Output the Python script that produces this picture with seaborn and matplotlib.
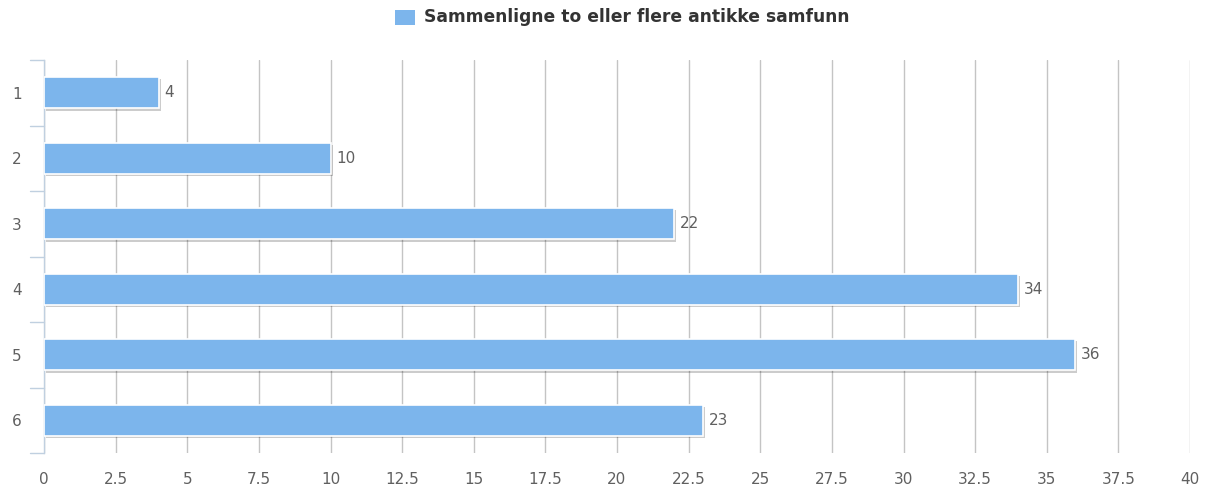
import matplotlib
matplotlib.use("Agg")
import matplotlib.pyplot as plt
import matplotlib.patheffects as pe
from matplotlib.patches import Rectangle
import seaborn as sns
import pandas as pd

categories = ["1", "2", "3", "4", "5", "6"]
values = [4, 10, 22, 34, 36, 23]
series_name = "Sammenligne to eller flere antikke samfunn"
x_ticks = [0, 2.5, 5, 7.5, 10, 12.5, 15, 17.5, 20, 22.5, 25, 27.5, 30, 32.5, 35, 37.5, 40]
x_tick_labels = ["0", "2.5", "5", "7.5", "10", "12.5", "15", "17.5", "20", "22.5",
                 "25", "27.5", "30", "32.5", "35", "37.5", "40"]

sns.set_theme(style="white")
plt.rcParams["font.family"] = ["DejaVu Sans"]

BAR = "#7cb5ec"
TXT = "#606060"

df = pd.DataFrame({"cat": categories, "val": values})

fig = plt.figure(figsize=(12.1, 4.88), dpi=100)
W, H = 1210, 488
ax = fig.add_axes([44 / W, 1 - 453 / H, (1190 - 44) / W, (453 - 60) / H])

sns.barplot(data=df, x="val", y="cat", orient="h", color=BAR, saturation=1,
            width=0.48, ax=ax, edgecolor="white", linewidth=1.2, zorder=3)

for p in ax.patches:
    p.set_path_effects([pe.SimplePatchShadow(offset=(1.5, -1.5), shadow_rgbFace="#000000", alpha=0.2),
                        pe.Normal()])

for i, v in enumerate(values):
    ax.text(v + 0.2, i, str(v), va="center", ha="left", fontsize=11, color=TXT, zorder=4)

ax.set_xlim(0, 40)
ax.set_ylim(5.5, -0.5)
ax.set_xticks(x_ticks)
ax.set_xticklabels(x_tick_labels)
ax.xaxis.grid(True, color="#c4c4c4", linewidth=1, zorder=0)
ax.yaxis.grid(False)
ax.set_axisbelow(True)
ax.tick_params(axis="x", length=0, pad=14, labelsize=11, labelcolor=TXT)
ax.tick_params(axis="y", length=0, pad=16, labelsize=11, labelcolor=TXT)
ax.set_xlabel("")
ax.set_ylabel("")

for s in ["top", "right", "bottom"]:
    ax.spines[s].set_visible(False)
ax.spines["left"].set_color("#c0d0e0")
ax.spines["left"].set_linewidth(1)

# category boundary ticks on y axis
for b in [k + 0.5 for k in range(-1, 6)]:
    ax.plot([-0.5, 0], [b, b], color="#c0d0e0", linewidth=1, clip_on=False, zorder=2)
ax.set_xlim(0, 40)

# legend
fig.patches.append(Rectangle((395 / W, 1 - 25 / H), 20 / W, 15 / H, transform=fig.transFigure,
                             facecolor=BAR, edgecolor="none"))
fig.text(424 / W, 1 - 17.5 / H, series_name, fontsize=12.3, fontweight="bold",
         color="#333333", va="center", ha="left")

fig.savefig("out.png", dpi=100, facecolor="white")
